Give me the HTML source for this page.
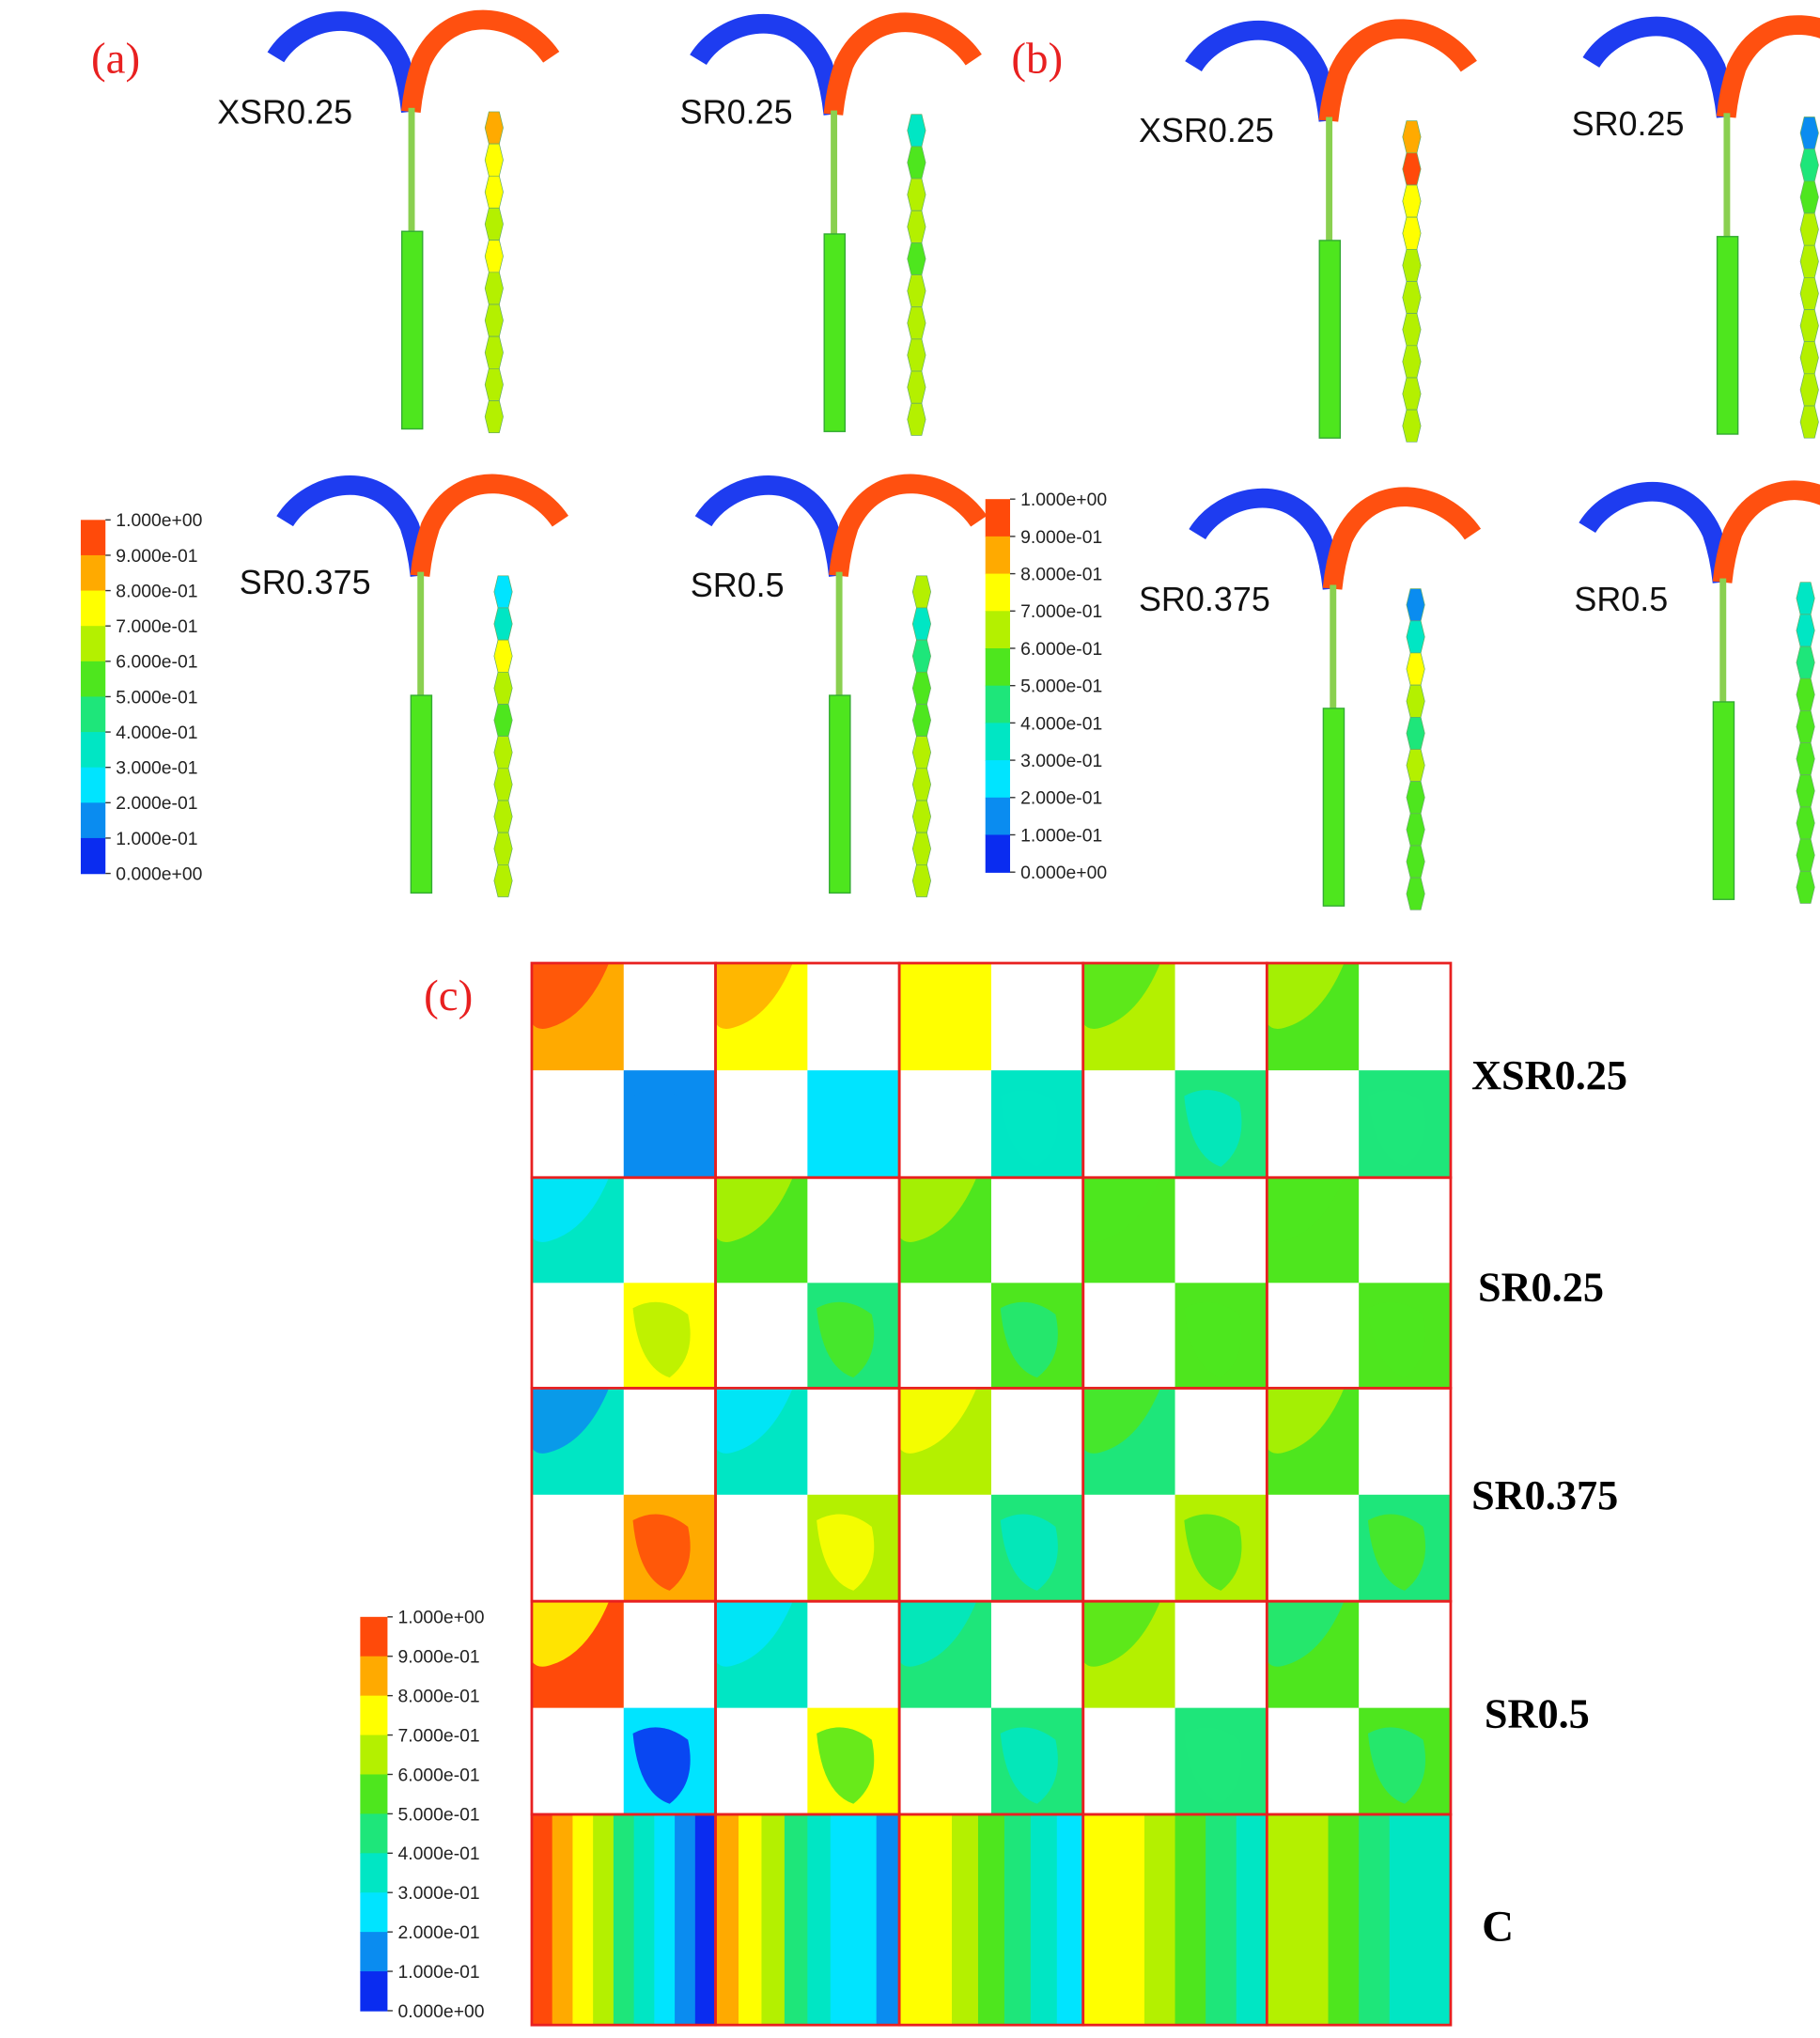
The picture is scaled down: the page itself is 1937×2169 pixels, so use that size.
<!DOCTYPE html>
<html><head><meta charset="utf-8">
<style>
html,body{margin:0;padding:0;background:#fff;}
svg{display:block;}
.lab{font-family:"Liberation Sans",sans-serif;font-size:26px;fill:#111;}
.ser{font-family:"Liberation Serif",serif;}
.cb{font-family:"Liberation Sans",sans-serif;font-size:14px;fill:#222;}
</style></head>
<body>
<svg id="fig" xmlns="http://www.w3.org/2000/svg" width="1937" height="2169" viewBox="0 0 1400 1568">
<rect width="1400" height="1568" fill="#fff"/>
<g id="devices"></g>
<g id="cbars"></g>
<g id="grid"></g>
<text class="ser" x="70" y="56" font-size="34" fill="#e82020">(a)</text>
<text class="ser" x="778" y="56" font-size="34" fill="#e82020">(b)</text>
<text class="ser" x="326" y="777" font-size="34" fill="#e82020">(c)</text>
<text class="lab" x="167" y="95">XSR0.25</text>
<text class="lab" x="523" y="95">SR0.25</text>
<text class="lab" x="184" y="457">SR0.375</text>
<text class="lab" x="531" y="459">SR0.5</text>
<text class="lab" x="876" y="109">XSR0.25</text>
<text class="lab" x="1209" y="104">SR0.25</text>
<text class="lab" x="876" y="470">SR0.375</text>
<text class="lab" x="1211" y="470">SR0.5</text>
<text class="ser" x="1132" y="838" font-size="32" font-weight="bold">XSR0.25</text>
<text class="ser" x="1137" y="1001" font-size="32" font-weight="bold">SR0.25</text>
<text class="ser" x="1132" y="1161" font-size="32" font-weight="bold">SR0.375</text>
<text class="ser" x="1142" y="1329" font-size="32" font-weight="bold">SR0.5</text>
<text class="ser" x="1140" y="1493" font-size="34" font-weight="bold">C</text>
</svg>
<script>
const cmap=["#0a2cf0","#0a8cf0","#00e4ff","#00e6c4","#1ee67a","#4ee61e","#b4f000","#ffff00","#ffaa00","#ff4a0a"];
const tickLabels=["1.000e+00","9.000e-01","8.000e-01","7.000e-01","6.000e-01","5.000e-01","4.000e-01","3.000e-01","2.000e-01","1.000e-01","0.000e+00"];
const rowNames=["XSR0.25","SR0.25","SR0.375","SR0.5"];
const tlBase=[[0.85,0.75,0.72,0.62,0.55],[0.3,0.55,0.5,0.5,0.5],[0.38,0.35,0.6,0.45,0.5],[0.92,0.35,0.4,0.62,0.5]];
const tlBlob=[[0.95,0.85,0.75,0.55,0.6],[0.25,0.6,0.6,0.5,0.5],[0.15,0.25,0.75,0.5,0.65],[0.75,0.25,0.3,0.55,0.45]];
const brBase=[[0.15,0.25,0.35,0.4,0.45],[0.72,0.45,0.5,0.5,0.5],[0.8,0.65,0.45,0.62,0.45],[0.2,0.72,0.45,0.45,0.5]];
const brBlob=[[0.12,0.22,0.3,0.35,0.4],[0.65,0.5,0.45,0.5,0.5],[0.95,0.75,0.35,0.55,0.5],[0.05,0.5,0.35,0.4,0.45]];
const cBands=[[0.95,0.85,0.75,0.62,0.45,0.3,0.2,0.1,0.03],[0.85,0.78,0.62,0.45,0.32,0.25,0.2,0.12],[0.75,0.7,0.6,0.5,0.4,0.3,0.25],[0.75,0.7,0.65,0.55,0.45,0.35],[0.65,0.6,0.55,0.45,0.35,0.3]];
const NS="http://www.w3.org/2000/svg";
function col(v){return cmap[Math.max(0,Math.min(9,Math.floor(v*10)))];}
function mk(p,t,a){const e=document.createElementNS(NS,t);for(const k in a)e.setAttribute(k,a[k]);p.appendChild(e);return e;}
const G=document.getElementById('grid');
const gx0=409,gx1=1116,rowsY=[741,906,1068,1232,1396,1558];
const cw=(gx1-gx0)/5;
function xs(c){return gx0+c*cw;}
for(let r=0;r<4;r++){
 const y0=rowsY[r],h=rowsY[r+1]-y0;
 for(let c=0;c<5;c++){
  const x=xs(c);
  const tl=mk(G,'rect',{x:x,y:y0,width:cw/2,height:h/2,fill:col(tlBase[r][c])});
  
  
  const b1=mk(G,'path',{d:`M${x},${y0} L${x+cw*0.42},${y0} Q${x+cw*0.3},${y0+h*0.25} ${x+cw*0.1},${y0+h*0.3} Q${x+cw*0.03},${y0+h*0.32} ${x},${y0+h*0.28} Z`,fill:col(tlBlob[r][c]),opacity:0.85});
  
  
  const br=mk(G,'rect',{x:x+cw/2,y:y0+h/2,width:cw/2,height:h/2,fill:col(brBase[r][c])});
  
  
  const b2=mk(G,'path',{d:`M${x+cw*0.55},${y0+h*0.62} Q${x+cw*0.7},${y0+h*0.55} ${x+cw*0.85},${y0+h*0.65} Q${x+cw*0.9},${y0+h*0.85} ${x+cw*0.75},${y0+h*0.95} Q${x+cw*0.58},${y0+h*0.9} ${x+cw*0.55},${y0+h*0.62} Z`,fill:col(brBlob[r][c]),opacity:0.85});
  
  
  const fr=mk(G,'rect',{x:x,y:y0,width:cw,height:h,fill:'none',stroke:'#e82020','stroke-width':2});
  
  
 }
}
for(let c=0;c<5;c++){
 const x=xs(c),y0=rowsY[4],h=rowsY[5]-y0,n=cBands[c].length,bw=cw/n;
 cBands[c].forEach((v,i)=>{
  const b=mk(G,'rect',{x:x+i*bw,y:y0,width:bw+0.5,height:h,fill:col(v)});
  
  
 });
 const fr=mk(G,'rect',{x:x,y:y0,width:cw,height:h,fill:'none',stroke:'#e82020','stroke-width':2});
 
 
}
const CB=document.getElementById('cbars');
function cbar(x,y0,y1,w,fs,name){
 const g=mk(CB,'g',{});
 
 
 const bh=(y1-y0)/10;
 for(let i=0;i<10;i++){mk(g,'rect',{x:x,y:y0+i*bh,width:w,height:bh+0.5,fill:cmap[9-i]});}
 tickLabels.forEach((t,i)=>{
  mk(g,'line',{x1:x+w,x2:x+w+4,y1:y0+i*bh,y2:y0+i*bh,stroke:'#333','stroke-width':1});
  const tx=mk(g,'text',{x:x+w+8,y:y0+i*bh+5,'font-size':fs,class:'cb'});tx.textContent=t;
 });
}
cbar(62,400,672,19,14.5,'colorbar-a');
cbar(758,384,671,19,14.5,'colorbar-b');
cbar(277,1244,1547,21,16.5,'colorbar-c');
const D=document.getElementById('devices');
const devPos=[[316,8],[641,10],[323,365],[645,365],[1022,15],[1328,12],[1025,375],[1325,370]];
const zig=[[0.8,0.7,0.75,0.65,0.7,0.6,0.65,0.6,0.62,0.6],[0.3,0.5,0.6,0.6,0.55,0.6,0.6,0.6,0.6,0.6],[0.2,0.35,0.7,0.6,0.55,0.65,0.6,0.6,0.6,0.6],[0.6,0.3,0.4,0.5,0.55,0.6,0.6,0.6,0.6,0.6],[0.8,0.9,0.75,0.7,0.65,0.6,0.6,0.6,0.6,0.6],[0.1,0.4,0.55,0.6,0.6,0.6,0.6,0.6,0.6,0.6],[0.15,0.3,0.7,0.6,0.4,0.6,0.55,0.5,0.55,0.5],[0.3,0.35,0.45,0.5,0.5,0.55,0.5,0.5,0.5,0.5]];
devPos.forEach((p,k)=>{
 const [x,y]=p;
 const g=mk(D,'g',{});
 
 
 mk(g,'path',{d:`M${x-104},${y+36} C${x-85},${y+5} ${x-30},${y-8} ${x-8},${y+40} Q${x-2},${y+58} ${x},${y+78}`,fill:'none',stroke:'#1e3cf0','stroke-width':15});
 mk(g,'path',{d:`M${x+108},${y+36} C${x+85},${y+2} ${x+30},${y-8} ${x+8},${y+40} Q${x+2},${y+58} ${x},${y+78}`,fill:'none',stroke:'#ff5010','stroke-width':15});
 mk(g,'rect',{x:x-2,y:y+75,width:5,height:96,fill:'#8ad050'});
 mk(g,'rect',{x:x-7,y:y+170,width:16,height:152,fill:'#4ee61e',stroke:'#3a3','stroke-width':1});
 const zx=x+64,zt=y+78,zb=y+325,seg=(zb-zt)/zig[k].length;
 zig[k].forEach((v,i)=>{
  const a=zt+i*seg;
  mk(g,'polygon',{points:`${zx-4},${a} ${zx+4},${a} ${zx+7},${a+seg/2} ${zx+4},${a+seg} ${zx-4},${a+seg} ${zx-7},${a+seg/2}`,fill:col(v),stroke:'#6a6','stroke-width':0.5});
 });
});
</script>
</body></html>
